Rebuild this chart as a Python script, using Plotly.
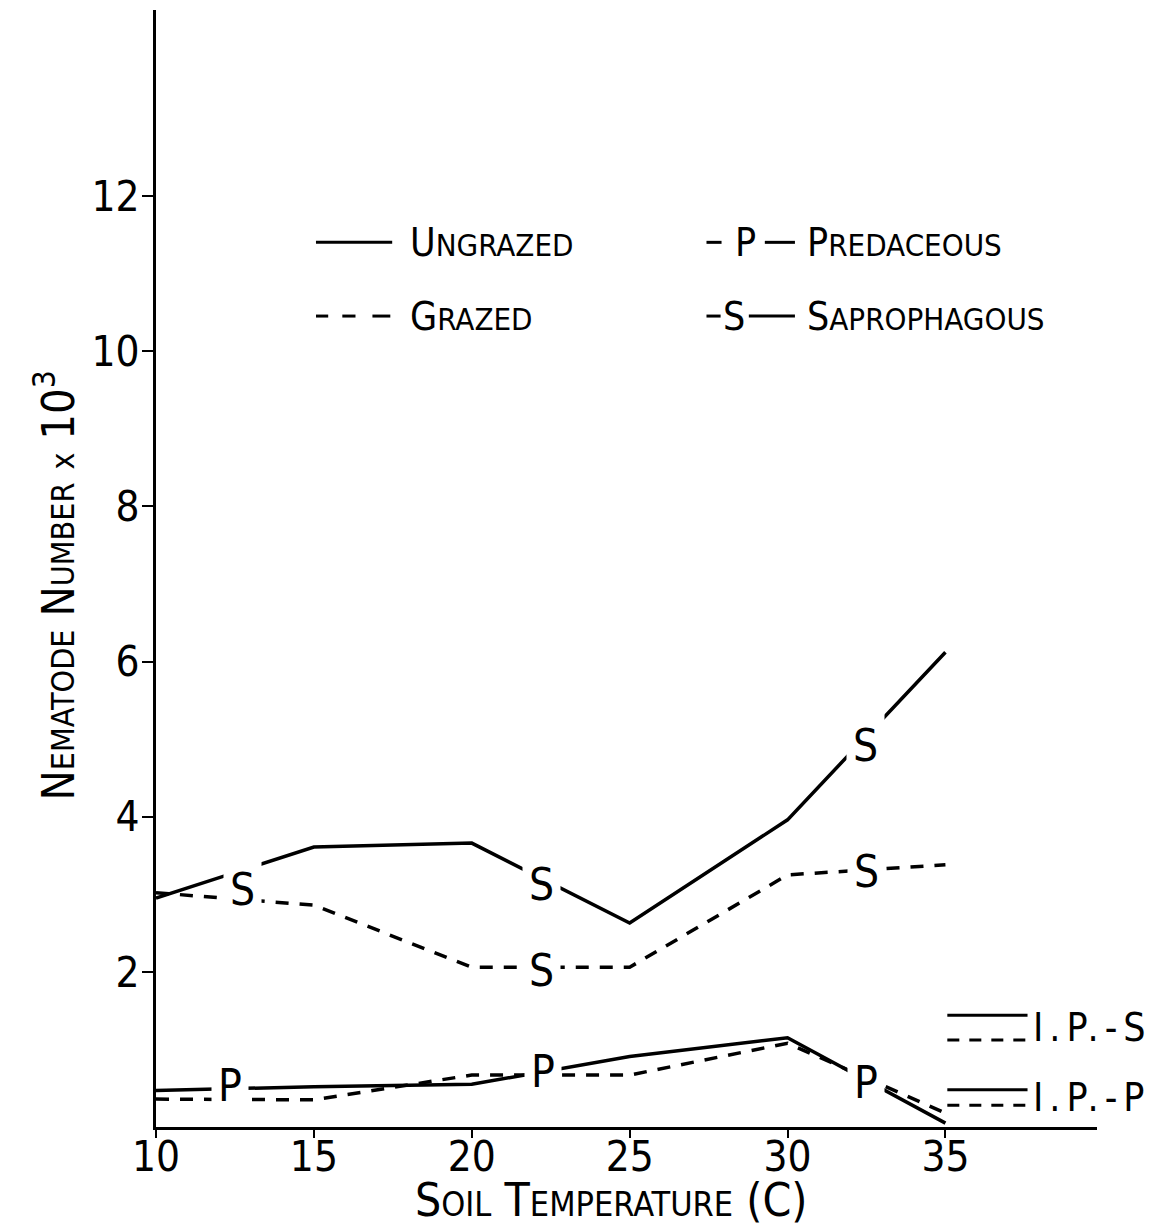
import plotly.graph_objects as go

# ---- data ----
temps = [10, 15, 20, 25, 30, 35]
ungrazed_s = [2.95, 3.61, 3.66, 2.63, 3.96, 6.12]
grazed_s = [3.02, 2.86, 2.06, 2.06, 3.25, 3.38]
ungrazed_p = [0.47, 0.52, 0.55, 0.91, 1.15, 0.05]
grazed_p = [0.36, 0.35, 0.67, 0.67, 1.08, 0.18]

# initial population (I.P.) reference levels
ip_x = [35.06, 37.6]
ip_s_ungrazed = 1.44
ip_s_grazed = 1.12
ip_p_ungrazed = 0.48
ip_p_grazed = 0.28

# label positions (x, y, text) on the curves
curve_labels = [
    (12.75, 3.06, "S"), (22.2, 3.12, "S"), (32.47, 4.92, "S"),
    (22.2, 2.02, "S"), (32.5, 3.29, "S"),
    (12.35, 0.54, "P"), (22.26, 0.71, "P"), (32.47, 0.58, "P"),
]

x_ticks = [10, 15, 20, 25, 30, 35]
y_ticks = [2, 4, 6, 8, 10, 12]

FONT = "Liberation Sans Narrow, DejaVu Sans Condensed, Roboto Condensed, Roboto, sans-serif"
LW = 3.5
DASH = "13px,11px"

fig = go.Figure()

fig.add_trace(go.Scatter(x=temps, y=ungrazed_s, mode="lines",
                         line=dict(color="black", width=LW), showlegend=False))
fig.add_trace(go.Scatter(x=temps, y=grazed_s, mode="lines",
                         line=dict(color="black", width=LW, dash=DASH), showlegend=False))
fig.add_trace(go.Scatter(x=temps, y=ungrazed_p, mode="lines",
                         line=dict(color="black", width=LW), showlegend=False))
fig.add_trace(go.Scatter(x=temps, y=grazed_p, mode="lines",
                         line=dict(color="black", width=LW, dash=DASH), showlegend=False))

for yv, dash in [(ip_s_ungrazed, None), (ip_s_grazed, "12px,10px"),
                 (ip_p_ungrazed, None), (ip_p_grazed, "12px,10px")]:
    fig.add_trace(go.Scatter(x=ip_x, y=[yv, yv], mode="lines",
                             line=dict(color="black", width=3, dash=dash),
                             showlegend=False, cliponaxis=False))

annotations = []
for (lx, ly, t) in curve_labels:
    annotations.append(dict(x=lx, y=ly, xref="x", yref="y", text=t, showarrow=False,
                            font=dict(family=FONT, size=44, color="black"),
                            bgcolor="white", borderpad=6, xanchor="center", yanchor="middle"))

# right-hand I.P. labels
for yv, t in [((ip_s_ungrazed + ip_s_grazed) / 2, "I.P.-S"),
              ((ip_p_ungrazed + ip_p_grazed) / 2, "I.P.-P")]:
    annotations.append(dict(x=37.7, y=yv, xref="x", yref="y",
                            text=f"<span style='letter-spacing:6px'>{t}</span>",
                            showarrow=False, xanchor="left", yanchor="middle",
                            font=dict(family=FONT, size=39, color="black")))

def sc(word, small=31):
    return word[0] + f"<span style='font-size:{small}px'>{word[1:]}</span>"

# top legend text
leg_y1, leg_y2 = 0.792, 0.726
LEGF = dict(family=FONT, size=39, color="black")
annotations += [
    dict(x=0.268, y=leg_y1, xref="paper", yref="paper", text=sc("UNGRAZED"),
         showarrow=False, xanchor="left", yanchor="middle", font=LEGF),
    dict(x=0.268, y=leg_y2, xref="paper", yref="paper", text=sc("GRAZED"),
         showarrow=False, xanchor="left", yanchor="middle", font=LEGF),
    dict(x=0.690, y=leg_y1, xref="paper", yref="paper", text=sc("PREDACEOUS"),
         showarrow=False, xanchor="left", yanchor="middle", font=LEGF),
    dict(x=0.690, y=leg_y2, xref="paper", yref="paper", text=sc("SAPROPHAGOUS"),
         showarrow=False, xanchor="left", yanchor="middle", font=LEGF),
    dict(x=0.626, y=leg_y1, xref="paper", yref="paper", text="P",
         showarrow=False, xanchor="center", yanchor="middle", font=LEGF),
    dict(x=0.614, y=leg_y2, xref="paper", yref="paper", text="S",
         showarrow=False, xanchor="center", yanchor="middle", font=LEGF),
]

# axis titles
annotations.append(dict(
    x=-0.107, y=0.485, xref="paper", yref="paper", textangle=-90,
    text="N<span style='font-size:32px'>EMATODE</span> N<span style='font-size:32px'>UMBER</span> "
         "<span style='font-size:32px'>x</span> 10<sup>3</sup>",
    showarrow=False, xanchor="center", yanchor="middle",
    font=dict(family=FONT, size=45, color="black")))
annotations.append(dict(
    x=0.484, y=-0.065, xref="paper", yref="paper",
    text="S<span style='font-size:34px'>OIL</span> T<span style='font-size:34px'>EMPERATURE</span> (C)",
    showarrow=False, xanchor="center", yanchor="middle",
    font=dict(family=FONT, size=46, color="black")))

shapes = []
def pline(x0, x1, y):
    shapes.append(dict(type="line", xref="paper", yref="paper", x0=x0, x1=x1, y0=y, y1=y,
                       line=dict(color="black", width=3)))

pline(0.170, 0.251, leg_y1)
for a, b in [(0.170, 0.183), (0.198, 0.212), (0.230, 0.249)]:
    pline(a, b, leg_y2)
pline(0.585, 0.601, leg_y1)
pline(0.647, 0.679, leg_y1)
pline(0.585, 0.600, leg_y2)
pline(0.630, 0.679, leg_y2)

fig.update_layout(
    width=1168, height=1218,
    margin=dict(l=148, r=79, t=2, b=99),
    paper_bgcolor="white", plot_bgcolor="white",
    annotations=annotations, shapes=shapes,
    xaxis=dict(range=[10, 39.8], tickvals=x_ticks, ticktext=[str(v) for v in x_ticks],
               showgrid=False, zeroline=False, showline=True, linecolor="black", linewidth=3,
               ticks="outside", ticklen=8, tickwidth=2, tickcolor="black",
               ticklabelstandoff=-17,
               tickfont=dict(family=FONT, size=42, color="black")),
    yaxis=dict(range=[0, 14.4], tickvals=y_ticks, ticktext=[str(v) for v in y_ticks],
               showgrid=False, zeroline=False, showline=True, linecolor="black", linewidth=3,
               ticks="outside", ticklen=11, tickwidth=2, tickcolor="black",
               ticklabelstandoff=-6,
               tickfont=dict(family=FONT, size=42, color="black")),
)

fig.write_html("out.html")
